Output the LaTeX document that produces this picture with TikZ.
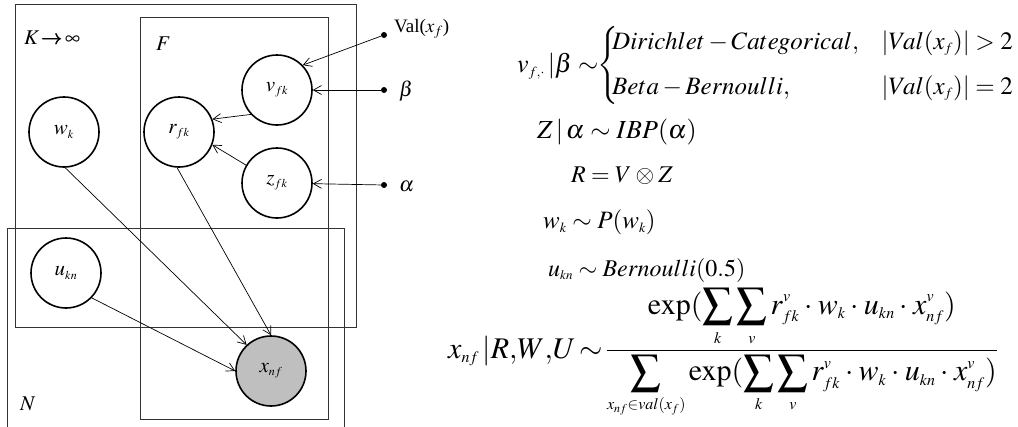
\documentclass[tikz,border=0pt]{standalone}
\usepackage{amsmath}
\usepackage{mathptmx}
\usepackage{fontspec}
\setmainfont{Liberation Serif}
\DeclareMathSizes{21}{21}{12}{9}
\DeclareMathSizes{24}{24}{13}{10}
\DeclareMathSizes{25}{25}{14}{11}
\DeclareMathSizes{26}{26}{14}{11}
\DeclareMathSizes{30}{30}{16}{12}
\newcommand\tightsp{\thickmuskip=4mu\relax\medmuskip=3mu\relax}
\usetikzlibrary{arrows.meta}
\tikzset{
  var/.style={circle,draw,line width=1.6pt,minimum size=70pt,inner sep=0pt,font=\fontsize{21}{21}\selectfont},
  obs/.style={var,fill=black!25},
  plate/.style={draw=black!80,line width=1pt},
  edge/.style={-{Straight Barb[length=8pt,width=9pt]},line width=0.7pt},
  hyper/.style={circle,fill,inner sep=0pt,minimum size=6pt},
  lbl/.style={inner sep=0pt,font=\fontsize{21}{21}\selectfont},
  eq/.style={inner sep=0pt,anchor=west,font=\fontsize{25}{25}\selectfont},
  caserow/.style={inner sep=0pt,font=\fontsize{25}{25}\selectfont}
}
\begin{document}
\begin{tikzpicture}[x=1pt,y=-1pt]
\useasboundingbox[fill=white] (0,0) rectangle (1018,426);
% plates
\draw[plate] (15,4) rectangle (356,327);
\draw[plate] (140,17) rectangle (328,419);
\draw[plate] (7,440) -- (7,228) -- (344,228) -- (344,440);
\node[lbl,anchor=west] (klbl) at (24,38) {$K\!\pmb{\rightarrow}\!\infty$};
\node[lbl,anchor=west] (flbl) at (156,44) {$F$};
\node[lbl,anchor=west] (nlbl) at (20,404) {$N$};
% nodes
\node[var] (w) at (64,132) {$w_k$};
\node[var] (r) at (179,132) {$r_{fk}$};
\node[var] (v) at (277,90) {$v_{fk}$};
\node[var] (z) at (277,183) {$z_{fk}$};
\node[var] (u) at (66,273) {$u_{kn}$};
\node[obs] (x) at (271,371) {$x_{nf}$};
% hyperparameters
\node[hyper] (val) at (384,35) {};
\node[hyper] (beta) at (384,90) {};
\node[hyper] (alpha) at (384,185) {};
\node[lbl,anchor=west,font=\fontsize{19}{19}\selectfont] (vallbl) at (394,29) {Val($x_f$)};
\node[lbl,anchor=west] (betalbl) at (399,91) {$\beta$};
\node[lbl,anchor=west] (alphalbl) at (399,186) {$\alpha$};
% edges
\draw[edge] (val) -- (v.44);
\draw[edge] (beta) -- (v);
\draw[edge] (alpha) -- (z);
\draw[edge] (v.223) -- (r.21);
\draw[edge] (z.150) -- (r.339);
\draw[edge] (w.272) -- (x.133);
\draw[edge] (r.267) -- (x.90);
\draw[edge] (u.316) -- (x.180);
% equation 1 (cases)
\node[eq,font=\fontsize{26}{26}\selectfont] (e1) at (517,66) {$\thickmuskip=4mu\relax v_{f,\boldsymbol{\cdot}}\,|\beta\sim$};
\node[inner sep=0pt,anchor=west,font=\fontsize{26}{26}\selectfont] (brace) at (597,65) {$\left\{\vrule height 32pt depth 32pt width 0pt\right.$};
\node[caserow,anchor=west] (c1) at (612,43) {$Dirichlet-Categorical,$};
\node[caserow,anchor=east] (c2) at (1013,43) {$|Val(x_f)|>2$};
\node[caserow,anchor=west] (c3) at (612,88) {$Beta-Bernoulli,$};
\node[caserow,anchor=east] (c4) at (1013,88) {$|Val(x_f)|=2$};
% other equations
\node[eq,font=\fontsize{26}{26}\selectfont] (e2) at (537,132) {$\tightsp Z\,|\,\alpha\sim IBP(\alpha)$};
\node[eq,font=\fontsize{24}{24}\selectfont] (e3) at (571,176) {$\tightsp R=V\otimes Z$};
\node[eq] (e4) at (543,222) {$\tightsp w_k\sim P(w_k)$};
\node[eq,font=\fontsize{24}{24}\selectfont] (e5) at (548,270) {$\tightsp u_{kn}\sim Bernoulli(0.5)$};
\node[eq,font=\fontsize{30}{30}\selectfont] (e6) at (448,353) {$\thickmuskip=2mu\relax\medmuskip=3mu\relax x_{nf}\,|R{,}W{,}U\sim\dfrac{\exp(\displaystyle\sum_k\sum_v r^v_{fk}\cdot w_k\cdot u_{kn}\cdot x^v_{nf})}{\displaystyle\sum_{x_{nf}\in val(x_f)}\exp(\sum_k\sum_v r^v_{fk}\cdot w_k\cdot u_{kn}\cdot x^v_{nf})}$};
\end{tikzpicture}
\end{document}
